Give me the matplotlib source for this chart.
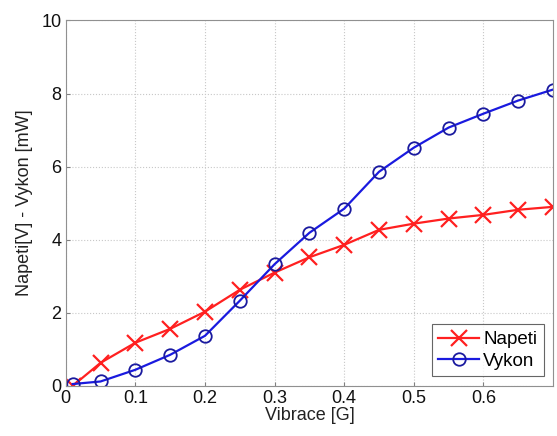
import matplotlib.pyplot as plt

plt.rcParams['font.family'] = ['Liberation Sans', 'DejaVu Sans']

# values
vibrace = [0.01, 0.05, 0.10, 0.15, 0.20, 0.25, 0.30, 0.35, 0.40, 0.45, 0.50, 0.55, 0.60, 0.65, 0.70]
napeti = [0.0, 0.63, 1.18, 1.56, 2.03, 2.63, 3.10, 3.52, 3.86, 4.27, 4.44, 4.58, 4.68, 4.82, 4.90]
vykon = [0.05, 0.12, 0.44, 0.85, 1.37, 2.33, 3.33, 4.19, 4.85, 5.86, 6.52, 7.07, 7.45, 7.81, 8.11]

x_ticks = [0, 0.1, 0.2, 0.3, 0.4, 0.5, 0.6]
y_ticks = [0, 2, 4, 6, 8, 10]

fig = plt.figure(figsize=(5.57, 4.36), dpi=100)
ax = fig.add_axes([0.118, 0.115, 0.875, 0.838])

ax.plot(vibrace, napeti, color='#ff2020', lw=1.6, marker='x', ms=12, mew=1.6, label='Napeti')
ax.plot(vibrace, vykon, color='#1a1adf', lw=1.6, marker='o', ms=9, mew=1.3,
        mfc='none', mec='#1a1a9f', label='Vykon')

ax.set_xlim(0, 0.7)
ax.set_ylim(0, 10)
ax.set_xticks(x_ticks)
ax.set_xticklabels(['0', '0.1', '0.2', '0.3', '0.4', '0.5', '0.6'])
ax.set_yticks(y_ticks)
ax.tick_params(direction='in', length=3, labelsize=13, color='#808080', pad=3, labelcolor='#111111')
ax.grid(True, linestyle=':', color='#c8c8c8', lw=0.8)
for s in ax.spines.values():
    s.set_color('#909090')

ax.set_xlabel('Vibrace [G]', fontsize=13, labelpad=0, color='#222222')
ax.set_ylabel('Napeti[V] - Vykon [mW]', fontsize=13, labelpad=6, color='#222222')

leg = ax.legend(loc='lower right', fontsize=13.5, fancybox=False, edgecolor='#404040',
                handlelength=2.2, handletextpad=0.2, borderpad=0.35, labelspacing=0.25,
                borderaxespad=0.5)
leg.get_frame().set_linewidth(0.8)

fig.savefig('out.png', dpi=100)
